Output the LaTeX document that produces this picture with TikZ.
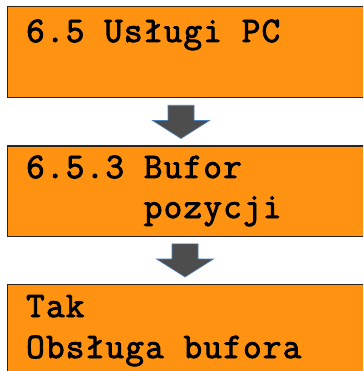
\documentclass[tikz,border=0pt]{standalone}
\usepackage{fontspec}
\newfontfamily\screenfont{Latin Modern Mono}[FakeBold=2.5,LetterSpace=3.6]
\usepackage{xcolor}
\usepackage{tikz}
\usetikzlibrary{calc,positioning}
\definecolor{screenorange}{RGB}{255,147,17}
\definecolor{frameedge}{RGB}{45,35,25}
\definecolor{arrowgray}{RGB}{77,77,77}
\definecolor{arrowblue}{RGB}{74,126,187}

\tikzset{
    screen/.style={rectangle,draw=frameedge,line width=1.3pt,fill=screenorange,
        anchor=north west,minimum width=368pt,inner sep=0pt},
    screentext/.style={anchor=base west,inner sep=0pt,
        font=\screenfont\fontsize{36}{40}\selectfont},
    blockarrow/.style={fill=arrowgray,draw=arrowblue,line width=0.6pt},
}

% block arrow from the bottom of one screen to the top of the next
\newcommand{\flowarrow}[3]{%
    \path[blockarrow] let \p1=(#1.south -| #3,0), \p2=(#2.north -| #3,0) in
        (\x1-13pt,\y1-7pt) -- (\x1+13pt,\y1-7pt) -- (\x1+13pt,\y2+25pt)
        -- (\x1+28.5pt,\y2+25pt) -- (\x1,\y2+7pt) -- (\x1-28.5pt,\y2+25pt)
        -- (\x1-13pt,\y2+25pt) -- cycle;
}

\begin{document}
\begin{tikzpicture}[x=1pt,y=-1pt]
    \useasboundingbox (0,0) rectangle (363,371);
    \fill[white] (0,0) rectangle (363,371);
    \clip (0,0) rectangle (363,371);

    % Screens
    \node[screen,minimum height=91pt] (b1) at (7,6) {};
    \node[screen,minimum height=90pt] (b2) at (7,145.5) {};
    \node[screen,minimum height=116pt] (b3) at (7,284) {};

    % Texts
    \node[screentext] (t1) at (26,42) {6.5 Usługi PC};
    \node[screentext] (t2) at (26,178) {6.5.3 Bufor};
    \node[screentext] (t3) at (26,218) {\phantom{6.5.3 }pozycji};
    \node[screentext] (t4) at (26,317) {Tak};
    \node[screentext] (t5) at (26,358) {Obsługa bufora};

    % Arrows
    \flowarrow{b1}{b2}{181}
    \flowarrow{b2}{b3}{185}
\end{tikzpicture}
\end{document}
